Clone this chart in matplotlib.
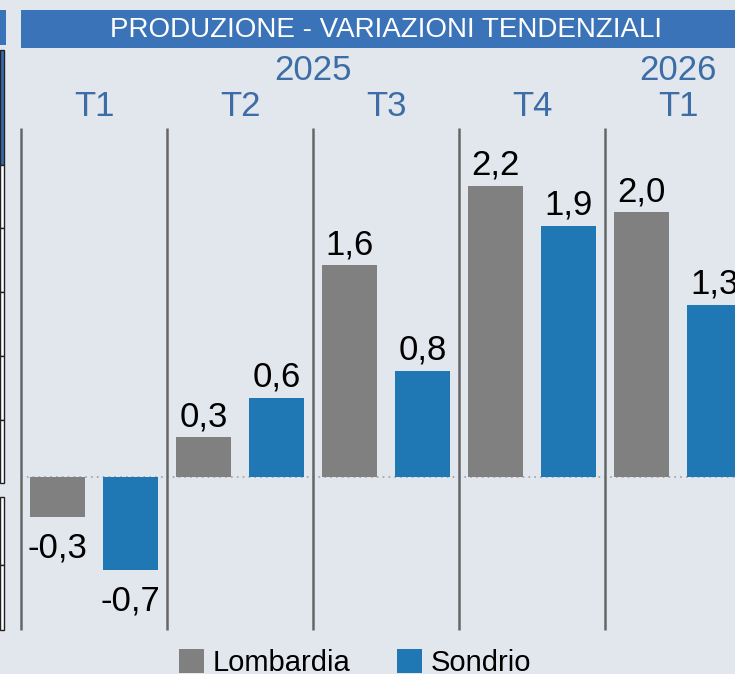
import matplotlib.pyplot as plt
from matplotlib.patches import Rectangle
from matplotlib.transforms import blended_transform_factory

plt.rcParams['font.family'] = ['Liberation Sans', 'DejaVu Sans']

# data
quarters = ['T1', 'T2', 'T3', 'T4', 'T1']
years = ['2025', '2026']
year_groups = [[0, 1, 2, 3], [4]]
lombardia = [-0.3, 0.3, 1.6, 2.2, 2.0]
sondrio = [-0.7, 0.6, 0.8, 1.9, 1.3]
series_names = ['Lombardia', 'Sondrio']

bg = '#E2E7EE'
banner_col = '#3B73B9'
label_blue = '#3C6DA6'
gray = '#808080'
blue = '#1F77B4'

W, H = 735, 674
fig = plt.figure(figsize=(W / 100, H / 100), dpi=100, facecolor=bg)

def fx(px):
    return px / W

def fy(py):
    return 1 - py / H

# piece of the neighbouring panel on the left edge
fig.patches.append(Rectangle((0, fy(45)), fx(6), 35 / H, transform=fig.transFigure,
                             facecolor=banner_col, edgecolor='none'))
fig.patches.append(Rectangle((0, fy(165)), fx(4), 115 / H, transform=fig.transFigure,
                             facecolor='#3A6AB0', edgecolor='#222222', lw=1))
edges = [165, 228, 292, 356, 420, 483]
for a, b in zip(edges[:-1], edges[1:]):
    fig.patches.append(Rectangle((0, fy(b)), fx(4), (b - a) / H, transform=fig.transFigure,
                                 facecolor='white', edgecolor='#222222', lw=1))
edges = [497, 565, 630]
for a, b in zip(edges[:-1], edges[1:]):
    fig.patches.append(Rectangle((0, fy(b)), fx(4), (b - a) / H, transform=fig.transFigure,
                                 facecolor='white', edgecolor='#222222', lw=1))

# title banner
fig.patches.append(Rectangle((fx(21), fy(48)), 1, 38 / H, transform=fig.transFigure,
                             facecolor=banner_col, edgecolor='none'))
fig.text(fx(386), fy(30), 'PRODUZIONE - VARIAZIONI TENDENZIALI', color='white',
         fontsize=20, ha='center', va='center')

ax = fig.add_axes([fx(21), fy(630), 1 - fx(21), (630 - 128) / H])
ax.set_facecolor(bg)
for s in ax.spines.values():
    s.set_visible(False)
ax.set_xticks([])
ax.set_yticks([])

x = list(range(len(quarters)))
off = 0.25
w = 0.377
b1 = ax.bar([i - off for i in x], lombardia, w, color=gray)
b2 = ax.bar([i + off for i in x], sondrio, w, color=blue)

ax.set_xlim(-0.5, -0.5 + (W - 21) / 146)
ax.set_ylim(-1.157, 2.638)

ax.axhline(0, color='#A0A0A0', lw=1.2, ls=(0, (1, 2.5)), zorder=0)
ax.vlines([i - 0.5 for i in range(len(quarters) + 1)], -1.157, 2.638,
          color='#666666', lw=1.8, clip_on=False)

for bars, vals in [(b1, lombardia), (b2, sondrio)]:
    for bar, v in zip(bars, vals):
        cx = bar.get_x() + bar.get_width() / 2
        txt = f'{v:.1f}'.replace('.', ',')
        if v >= 0:
            ax.annotate(txt, (cx, v), xytext=(0, 3), textcoords='offset points',
                        ha='center', va='bottom', fontsize=25, color='black')
        else:
            ax.annotate(txt, (cx, v), xytext=(0, -11), textcoords='offset points',
                        ha='center', va='top', fontsize=25, color='black')

tr = blended_transform_factory(ax.transData, fig.transFigure)
for i, q in enumerate(quarters):
    ax.text(i, fy(107), q, transform=tr, ha='center', va='center',
            fontsize=25, color=label_blue, clip_on=False)
for yr, grp in zip(years, year_groups):
    ax.text(sum(grp) / len(grp), fy(71), yr, transform=tr, ha='center', va='center',
            fontsize=25, color=label_blue, clip_on=False)

fig.legend([b1, b2], series_names, loc='center', bbox_to_anchor=(fx(355), fy(663)),
           ncol=2, frameon=False, fontsize=21, handlelength=0.85, handleheight=0.85,
           handletextpad=0.3, columnspacing=1.6)

fig.savefig('out.png', dpi=100, facecolor=bg)
